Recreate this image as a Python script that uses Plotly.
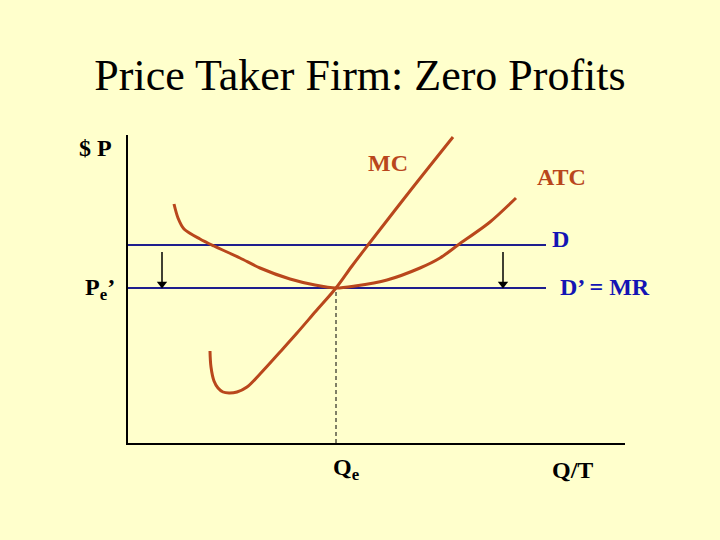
import plotly.graph_objects as go

# ---- data (quantity, price) in chart units ----
mc_q = [82, 83, 86, 90, 95, 101, 109, 119, 132, 152, 169, 188, 208, 224, 240, 282, 325]
mc_p = [92, 76, 62, 55, 51, 50, 51, 56, 69, 91, 110, 132, 155, 177, 198, 252, 306]

atc_q = [46, 50, 56, 72, 86, 112, 132, 162, 187, 208, 227, 259, 292, 312, 330, 362, 388]
atc_p = [239, 225, 214, 204, 197, 185, 175, 164, 158, 155, 157, 163, 175, 185, 198, 221, 245]

d_price = 198
d2_price = 155
demand_q = [0, 418]
q_e = 208
arrow_q = [34, 375]
arrow_from_p = 191

X_MAX = 497
Y_MAX = 308

BROWN = "#B9471C"
NAVY = "#1E1E8E"
BLUE = "#1414B4"
FONT = "Liberation Serif"

fig = go.Figure()
fig.add_trace(go.Scatter(x=demand_q, y=[d_price, d_price], mode="lines",
                         line=dict(color=NAVY, width=2), hoverinfo="skip"))
fig.add_trace(go.Scatter(x=demand_q, y=[d2_price, d2_price], mode="lines",
                         line=dict(color=NAVY, width=2), hoverinfo="skip"))
fig.add_trace(go.Scatter(x=[q_e, q_e], y=[0, d2_price], mode="lines",
                         line=dict(color="black", width=1, dash="4px,3px"), hoverinfo="skip"))
fig.add_trace(go.Scatter(x=mc_q, y=mc_p, mode="lines", line_shape="spline",
                         line=dict(color=BROWN, width=3, smoothing=1.0), hoverinfo="skip"))
fig.add_trace(go.Scatter(x=atc_q, y=atc_p, mode="lines", line_shape="spline",
                         line=dict(color=BROWN, width=3, smoothing=0.8), hoverinfo="skip"))

# downward shift arrows
for q in arrow_q:
    fig.add_trace(go.Scatter(x=[q, q], y=[arrow_from_p, d2_price + 6], mode="lines",
                             line=dict(color="black", width=1.5), hoverinfo="skip"))
    fig.add_trace(go.Scatter(x=[q], y=[d2_price + 4], mode="markers",
                             marker=dict(symbol="triangle-down", size=9, color="black"),
                             hoverinfo="skip"))

labels = [
    ("<b>$ P</b>", -33, 295, "black"),
    ("<b>MC</b>", 260, 280, BROWN),
    ("<b>ATC</b>", 433, 266, BROWN),
    ("<b>D</b>", 432, 204, BLUE),
    ("<b>D’ = MR</b>", 477, 156, BLUE),
    ("<b>P<sub>e</sub>’</b>", -28, 154, "black"),
    ("<b>Q<sub>e</sub></b>", 218, -26, "black"),
    ("<b>Q/T</b>", 444, -27, "black"),
]
for txt, x, y, c in labels:
    fig.add_annotation(x=x / X_MAX, y=y / Y_MAX, xref="paper", yref="paper", text=txt,
                       xanchor="center", yanchor="middle",
                       showarrow=False, font=dict(family=FONT, size=24, color=c))

fig.update_layout(
    width=720, height=540,
    margin=dict(l=128, r=95, t=135, b=97),
    paper_bgcolor="#FFFFCC", plot_bgcolor="#FFFFCC",
    showlegend=False,
    title=dict(text="Price Taker Firm: Zero Profits", x=0.5, xanchor="center",
               xref="container", yref="container", y=1 - 75 / 540, yanchor="middle",
               font=dict(family=FONT, size=44, color="black")),
)
fig.update_xaxes(range=[0, X_MAX], showline=True, linecolor="black", linewidth=1.5,
                 showgrid=False, zeroline=False, showticklabels=False, ticks="")
fig.update_yaxes(range=[0, Y_MAX], showline=True, linecolor="black", linewidth=1.5,
                 showgrid=False, zeroline=False, showticklabels=False, ticks="")

fig.write_html("out.html", config={"displayModeBar": False},
               post_script="document.body.style.margin='0';document.body.style.background='#FFFFCC';")
